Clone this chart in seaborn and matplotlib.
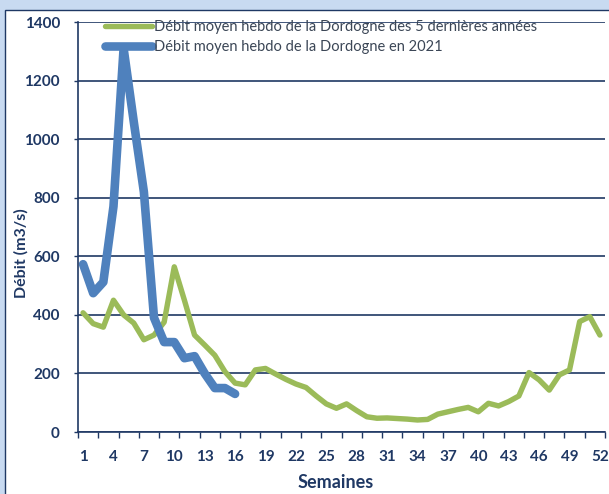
import pandas as pd
import matplotlib
matplotlib.use('Agg')
import matplotlib.pyplot as plt
from matplotlib.patches import Rectangle
from matplotlib.ticker import FixedLocator
import seaborn as sns

# Weekly mean discharge of the Dordogne (m3/s)
semaines = list(range(1, 53))
debit_5ans = [407, 370, 358, 450, 400, 372, 315, 331, 375, 564,
              450, 331, 297, 262, 206, 167, 161, 212, 217, 198,
              180, 164, 152, 123, 96, 81, 96, 73, 52, 47,
              48, 46, 44, 41, 43, 61, 69, 77, 84, 69,
              98, 89, 104, 123, 203, 178, 143, 195, 212, 377,
              394, 331]
semaines_2021 = list(range(1, 17))
debit_2021 = [573, 474, 512, 770, 1310, 1060, 820, 390, 307, 307,
              252, 259, 200, 150, 150, 130]

serie_5ans = "Débit moyen hebdo de la Dordogne des 5 dernières années"
serie_2021 = "Débit moyen hebdo de la Dordogne en 2021"
y_ticks = [0, 200, 400, 600, 800, 1000, 1200, 1400]
x_labels = list(range(1, 53, 3))

df = pd.concat([
    pd.DataFrame({'Semaine': semaines, 'Débit': debit_5ans, 'Série': serie_5ans}),
    pd.DataFrame({'Semaine': semaines_2021, 'Débit': debit_2021, 'Série': serie_2021}),
], ignore_index=True)

sns.set_theme(style='white')
plt.rcParams['font.family'] = ['Lato', 'DejaVu Sans']

navy = '#1f3864'
palette = {serie_5ans: '#9bbb59', serie_2021: '#4f81bd'}
widths = {serie_5ans: 3.9, serie_2021: 6.2}

fig = plt.figure(figsize=(6.09, 4.94), dpi=100)
fig.patch.set_facecolor('#c8daf1')
# white chart area with its dark frame, over the light blue backdrop
fig.add_artist(Rectangle((5 / 609, -0.1), 1.2, 1 - 10 / 494 + 0.1,
                         transform=fig.transFigure, facecolor='white',
                         edgecolor=navy, linewidth=1.0, zorder=-10))

ax = fig.add_axes([78 / 609, 1 - 432 / 494, 527 / 609, 410 / 494])
ax.set_facecolor('none')

sns.lineplot(data=df, x='Semaine', y='Débit', hue='Série', size='Série',
             hue_order=[serie_5ans, serie_2021], palette=palette,
             sizes=widths, legend=False, ax=ax)
for line in ax.get_lines():
    line.set_solid_joinstyle('round')
    line.set_solid_capstyle('round')

ax.set_xlim(0.5, 52.5)
ax.set_ylim(0, 1400)
ax.set_yticks(y_ticks)
ax.set_xticks(x_labels)
ax.xaxis.set_minor_locator(FixedLocator([0.5 + 2 * k for k in range(27)]))

ax.grid(axis='y', color=navy, linewidth=1.2)
ax.grid(axis='x', visible=False)
for side in ['top', 'right']:
    ax.spines[side].set_visible(False)
for side in ['left', 'bottom']:
    ax.spines[side].set_color(navy)
    ax.spines[side].set_linewidth(1.2)

ax.tick_params(axis='x', which='major', length=0, pad=13, labelsize=11, labelcolor=navy)
ax.tick_params(axis='x', which='minor', length=4, width=1, color=navy, direction='out', bottom=True)
ax.tick_params(axis='y', length=3, width=1, color=navy, left=True, pad=10, labelsize=11, labelcolor=navy)
for lab in ax.get_xticklabels() + ax.get_yticklabels():
    lab.set_fontweight('bold')

ax.set_xlabel('Semaines', fontsize=13, fontweight='bold', color=navy)
ax.set_ylabel('Débit (m3/s)', fontsize=11.5, fontweight='bold', color=navy)
ax.xaxis.set_label_coords(0.488, -0.102)
ax.yaxis.set_label_coords(-0.093, 0.437)

handles = ax.get_lines()[:2]
leg = ax.legend(handles, [serie_5ans, serie_2021], loc='upper left',
                bbox_to_anchor=(0.052, 1.005), frameon=False, fontsize=10.5,
                handlelength=3.2, handletextpad=0.15, labelspacing=0.4,
                borderpad=0, borderaxespad=0)
for t in leg.get_texts():
    t.set_color('#3b4656')

fig.savefig('out.png', dpi=100, facecolor=fig.get_facecolor())
